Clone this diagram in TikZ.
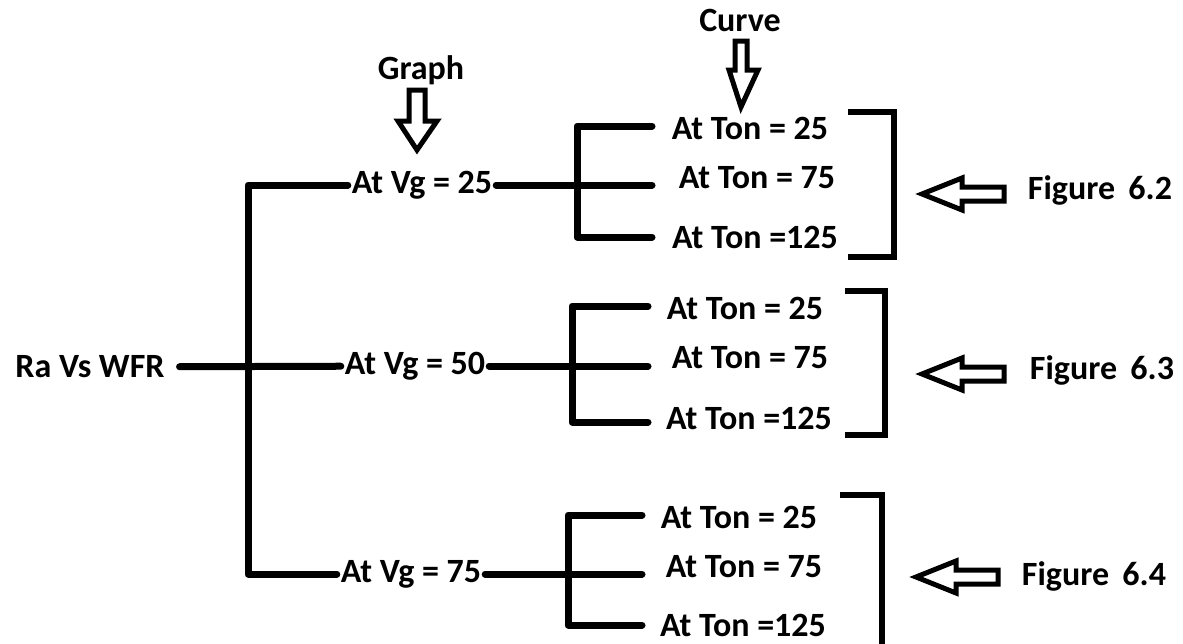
\documentclass[tikz,border=0pt]{standalone}
\usepackage{fontspec}
\setmainfont{Carlito}
\begin{document}
\begin{tikzpicture}[x=1pt,y=-1pt,
  lbl/.style={font=\bfseries\fontsize{34}{38}\selectfont, inner sep=0pt, outer sep=4pt, text=black},
  wire/.style={line width=7pt, line cap=round, line join=round},
  hollow/.style={line width=5pt, draw=black, fill=white, line join=miter},
  brk/.style={line width=6pt, line join=miter}]
\useasboundingbox (0,0) rectangle (1183,643);
% labels
\node[lbl] (ra) at (90,367) {Ra Vs WFR};
\node[lbl] (vg25) at (422,185) {At Vg = 25};
\node[lbl] (vg50) at (415,366) {At Vg = 50};
\node[lbl] (vg75) at (411,574) {At Vg = 75};
\node[lbl] (t1a) at (750,128) {At Ton = 25};
\node[lbl] (t1b) at (757,178) {At Ton = 75};
\node[lbl] (t1c) at (755,237) {At Ton =125};
\node[lbl] (t2a) at (745,308) {At Ton = 25};
\node[lbl] (t2b) at (750,358) {At Ton = 75};
\node[lbl] (t2c) at (749,418) {At Ton =125};
\node[lbl] (t3a) at (739,517) {At Ton = 25};
\node[lbl] (t3b) at (744,567) {At Ton = 75};
\node[lbl] (t3c) at (743,625) {At Ton =125};
\node[lbl] (graph) at (421,70) {Graph};
\node[lbl] (curve) at (740,20) {Curve};
\node[lbl] (f2) at (1100,190) {Figure\, 6.2};
\node[lbl] (f3) at (1102,370) {Figure\, 6.3};
\node[lbl] (f4) at (1094,576) {Figure\, 6.4};
% tree
\coordinate (M) at (248,0);
\coordinate (S1) at (577,0);
\coordinate (S2) at (572,0);
\coordinate (S3) at (568,0);
\coordinate (E1) at (652,0);
\coordinate (E2) at (648,0);
\coordinate (E3) at (642,0);
\draw[wire,shorten <=11pt] (ra) -- (vg50);
\draw[wire] (vg25) -- (vg25 -| M) -- (vg75 -| M) -- (vg75);
\draw[wire] (vg25) -- (vg25 -| E1);
\draw[wire] (vg50) -- (vg50 -| E2);
\draw[wire] (vg75) -- (vg75 -| E3);
\draw[wire] ([yshift=2pt]t1a.west -| E1) -- ([yshift=2pt]t1a.west -| S1) -- (t1c.west -| S1) -- (t1c.west -| E1);
\draw[wire] ([yshift=2pt]t2a.west -| E2) -- ([yshift=2pt]t2a.west -| S2) -- ([yshift=-4pt]t2c.west -| S2) -- ([yshift=-4pt]t2c.west -| E2);
\draw[wire] ([yshift=2pt]t3a.west -| E3) -- ([yshift=2pt]t3a.west -| S3) -- (t3c.west -| S3) -- (t3c.west -| E3);
% right brackets
\draw[brk] (848,112) -- (894,112) -- (894,257) -- (848,257);
\draw[brk] (845,291) -- (885,291) -- (885,435) -- (845,435);
\draw[brk] (840,495) -- (882,495) -- (882,650);
% figure arrows
\foreach \y/\x in {194/922, 374/922, 577/916} {
  \draw[hollow] (\x,\y) -- (\x+40,\y-16) -- (\x+40,\y-7) -- (\x+82,\y-7) -- (\x+82,\y+7) -- (\x+40,\y+7) -- (\x+40,\y+16) -- cycle;
}
% down arrows
\draw[hollow] (409,90) -- (425,90) -- (425,121) -- (437,121) -- (417,150) -- (398,121) -- (409,121) -- cycle;
\draw[hollow] (735,41) -- (747,41) -- (747,70) -- (758,70) -- (741,107) -- (729,70) -- (735,70) -- cycle;
\end{tikzpicture}
\end{document}
